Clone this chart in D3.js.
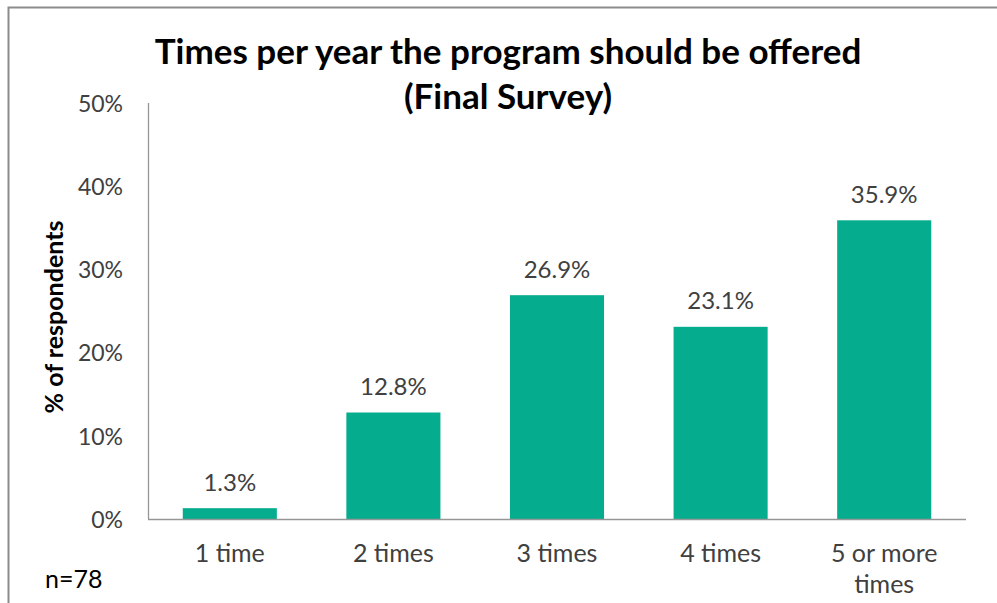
<!DOCTYPE html>
<html>
<head>
<meta charset="utf-8">
<script src="https://cdn.jsdelivr.net/npm/d3@7"></script>
<style>
  html, body { margin: 0; padding: 0; background: #fff; }
  svg { display: block; font-family: Lato, "Open Sans", sans-serif; }
</style>
</head>
<body>
<svg id="chart" width="997" height="603"></svg>
<script>
// Survey responses: how many times per year the program should run
const categories = ["1 time", "2 times", "3 times", "4 times", "5 or more times"];
const categoryLines = [["1 time"], ["2 times"], ["3 times"], ["4 times"], ["5 or more", "times"]];
const percentages = [1.3, 12.8, 26.9, 23.1, 35.9];
const yTicks = [0, 10, 20, 30, 40, 50];
const titleLines = ["Times per year the program should be offered", "(Final Survey)"];
const yAxisTitle = "% of respondents";
const sampleNote = "n=78";

const svg = d3.select("#chart");
const barColor = "#05ac8e";
const textColor = "#404040";

// outer frame
svg.append("rect")
  .attr("x", 8.5).attr("y", 7.5)
  .attr("width", 1100).attr("height", 700)
  .attr("fill", "none").attr("stroke", "#8c8c8c").attr("stroke-width", 2);

const plot = { left: 148, right: 966, top: 103, bottom: 519 };

const x = d3.scaleBand()
  .domain(categories)
  .range([plot.left, plot.right])
  .paddingInner(0.425)
  .paddingOuter(0.2125);

const y = d3.scaleLinear().domain([0, 50]).range([plot.bottom, plot.top]);

// y tick labels (no tick marks)
svg.append("g").selectAll("text")
  .data(yTicks)
  .join("text")
  .attr("x", 123)
  .attr("y", d => y(d))
  .attr("dy", "0.38em")
  .attr("text-anchor", "end")
  .attr("font-size", 23)
  .attr("fill", textColor)
  .text(d => d + "%");

// bars
svg.append("g").selectAll("rect")
  .data(percentages)
  .join("rect")
  .attr("x", (d, i) => x(categories[i]))
  .attr("y", d => y(d))
  .attr("width", x.bandwidth())
  .attr("height", d => y(0) - y(d))
  .attr("fill", barColor);

// value labels
svg.append("g").selectAll("text")
  .data(percentages)
  .join("text")
  .attr("x", (d, i) => x(categories[i]) + x.bandwidth() / 2)
  .attr("y", d => y(d) - 17.5)
  .attr("text-anchor", "middle")
  .attr("font-size", 24)
  .attr("fill", textColor)
  .text(d => d.toFixed(1) + "%");

// axis lines
svg.append("line")
  .attr("x1", plot.left + 0.5).attr("x2", plot.left + 0.5)
  .attr("y1", plot.top).attr("y2", plot.bottom)
  .attr("stroke", "#969696").attr("stroke-width", 1.3);
svg.append("line")
  .attr("x1", plot.left).attr("x2", plot.right)
  .attr("y1", plot.bottom + 0.5).attr("y2", plot.bottom + 0.5)
  .attr("stroke", "#969696").attr("stroke-width", 1.3);

// category labels
const catG = svg.append("g").selectAll("text")
  .data(categoryLines)
  .join("text")
  .attr("x", (d, i) => x(categories[i]) + x.bandwidth() / 2)
  .attr("y", 562)
  .attr("text-anchor", "middle")
  .attr("font-size", 25)
  .attr("fill", textColor);
catG.selectAll("tspan")
  .data(d => d)
  .join("tspan")
  .attr("x", function () { return d3.select(this.parentNode).attr("x"); })
  .attr("dy", (d, i) => i === 0 ? 0 : 31)
  .text(d => d);

// title
svg.append("g").selectAll("text")
  .data(titleLines)
  .join("text")
  .attr("x", 508)
  .attr("y", (d, i) => 64 + i * 45)
  .attr("text-anchor", "middle")
  .attr("font-size", 35)
  .attr("font-weight", "bold")
  .attr("fill", "#000")
  .text(d => d);

// y axis title
svg.append("text")
  .attr("transform", "translate(63,317) rotate(-90)")
  .attr("text-anchor", "middle")
  .attr("font-size", 25)
  .attr("font-weight", "bold")
  .attr("fill", "#000")
  .text(yAxisTitle);

// sample size note
svg.append("text")
  .attr("x", 45)
  .attr("y", 588)
  .attr("font-size", 25)
  .attr("fill", "#000")
  .text(sampleNote);
</script>
</body>
</html>
